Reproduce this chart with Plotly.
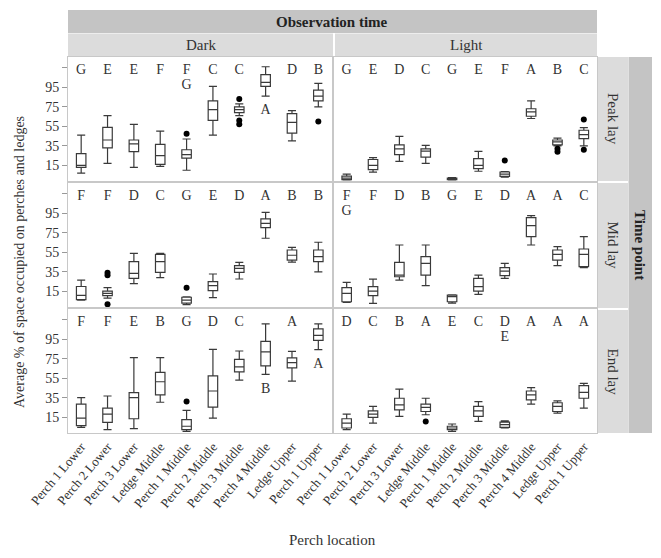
import plotly.graph_objects as go
from plotly.subplots import make_subplots

CATEGORIES = ["Perch 1 Lower", "Perch 2 Lower", "Perch 3 Lower", "Ledge Middle",
              "Perch 1 Middle", "Perch 2 Middle", "Perch 3 Middle", "Perch 4 Middle",
              "Ledge Upper", "Perch 1 Upper"]
Y_TICKS = [15, 35, 55, 75, 95, 115]
Y_TICK_TEXT = ["15", "35", "55", "75", "95", ""]
COL_NAMES = ["Dark", "Light"]
ROW_NAMES = ["Peak lay", "Mid lay", "End lay"]

# ---- Dark / Peak lay ----
dark_peak_low = [7, 17, 13, 14, 10, 46, 66, 86, 40, 75]
dark_peak_q1 = [13, 33, 29, 16, 22.5, 61, 69, 96, 48, 81]
dark_peak_med = [15, 41, 37, 25, 26, 72, 72, 100, 59, 86]
dark_peak_q3 = [27, 54, 41, 36.5, 31, 81, 75, 108, 68, 92]
dark_peak_high = [46, 66, 57, 50, 42, 96, 78, 116, 71, 99]
dark_peak_out_x = ["Perch 1 Middle", "Perch 3 Middle", "Perch 3 Middle", "Perch 3 Middle", "Perch 1 Upper"]
dark_peak_out_y = [47.5, 83, 61, 57, 60]
dark_peak_top = ["G", "E", "E", "F", "F", "C", "C", "", "D", "B"]
dark_peak_second = ["", "", "", "", "G", "", "", "", "", ""]
dark_peak_below = ["", "", "", "", "", "", "", "A", "", ""]

# ---- Light / Peak lay ----
light_peak_low = [0, 8, 19, 17, 0, 9, 3, 63, 35, 35]
light_peak_q1 = [0.5, 10.6, 26, 23.5, 0.5, 11.6, 3.7, 65.3, 36, 42.4]
light_peak_med = [2, 15, 32, 29.7, 1, 15, 6, 69.7, 39, 46.5]
light_peak_q3 = [4, 21, 36, 32, 2, 22, 8.2, 73, 41, 51]
light_peak_high = [6, 23, 44.7, 35.5, 2.5, 29.4, 8.5, 81, 43, 53.6]
light_peak_out_x = ["Perch 3 Middle", "Ledge Upper", "Ledge Upper", "Perch 1 Upper", "Perch 1 Upper"]
light_peak_out_y = [20, 32, 29, 62, 31]
light_peak_top = ["G", "E", "D", "C", "G", "E", "F", "A", "B", "C"]
light_peak_second = [""] * 10
light_peak_below = [""] * 10

# ---- Dark / Mid lay ----
dark_mid_low = [6, 8, 23, 29, 1.5, 8.5, 27.7, 69.4, 45, 35]
dark_mid_q1 = [6.5, 10.6, 28.3, 34.5, 3, 15.7, 34.5, 80.3, 47, 45.4]
dark_mid_med = [11, 13, 33.5, 45.4, 6, 20.8, 38.6, 84.7, 52, 50.6]
dark_mid_q3 = [20, 15.3, 45.4, 53, 9, 25, 41.3, 89.2, 57.4, 57.4]
dark_mid_high = [26.6, 18.8, 54, 54, 9.5, 32.8, 44.7, 96, 60, 65.3]
dark_mid_out_x = ["Perch 2 Lower", "Perch 2 Lower", "Perch 2 Lower", "Perch 1 Middle"]
dark_mid_out_y = [34, 31.5, 1.7, 18.8]
dark_mid_top = ["F", "F", "D", "C", "G", "E", "D", "A", "B", "B"]
dark_mid_second = [""] * 10
dark_mid_below = [""] * 10

# ---- Light / Mid lay ----
light_mid_low = [3.7, 2.7, 26.6, 20.8, 3, 11.9, 28.3, 62.5, 41.3, 39.3]
light_mid_q1 = [4.4, 10.6, 30, 31.7, 4.4, 15.3, 31.1, 71, 47.1, 40.3]
light_mid_med = [13, 15.3, 31.7, 43.7, 9.6, 19.8, 35.8, 82.4, 53, 53]
light_mid_q3 = [18.8, 19.8, 44.7, 50.6, 11.2, 28.3, 39.3, 90.6, 57.4, 58.4]
light_mid_high = [24.2, 27.6, 62.5, 62.5, 11.5, 31.7, 43.7, 92.6, 60.8, 71]
light_mid_out_x = []
light_mid_out_y = []
light_mid_top = ["F", "F", "D", "B", "G", "E", "D", "A", "A", "C"]
light_mid_second = ["G", "", "", "", "", "", "", "", "", ""]
light_mid_below = [""] * 10

# ---- Dark / End lay ----
dark_end_low = [4.8, 2.4, 3.4, 30.5, 0.7, 14.3, 53.2, 59, 52.2, 84.3]
dark_end_q1 = [6.5, 9.9, 13.6, 38, 2.4, 25.5, 61.7, 67.8, 65.8, 93.8]
dark_end_med = [14.3, 18.4, 35.3, 51.5, 5.9, 42, 66.8, 82, 71.1, 98.9]
dark_end_q3 = [28.5, 24.4, 40.4, 61, 12.6, 57.6, 74.5, 92.8, 75.9, 105.7]
dark_end_high = [35.3, 36.9, 76.2, 76.2, 22.1, 84.6, 83, 110.7, 82.6, 110.7]
dark_end_out_x = ["Perch 1 Middle"]
dark_end_out_y = [31.2]
dark_end_top = ["F", "F", "E", "B", "G", "D", "C", "", "A", ""]
dark_end_second = [""] * 10
dark_end_below = ["", "", "", "", "", "", "", "B", "", "A"]

# ---- Light / End lay ----
light_end_low = [2.4, 9.2, 16, 17.7, 0.7, 10.9, 4.1, 28.5, 19.4, 24.4]
light_end_q1 = [4.1, 15, 22.7, 21, 2.4, 16, 4.8, 32.9, 21, 34.6]
light_end_med = [9.2, 18.4, 27.8, 25.2, 4.1, 21.7, 7.5, 38, 26.2, 40.7]
light_end_q3 = [13.6, 21.7, 34.6, 28.5, 5.9, 26.2, 10.2, 42, 30, 47.5]
light_end_high = [18.4, 26.2, 44, 34.6, 8.2, 31.2, 11.5, 45.5, 31.9, 49.8]
light_end_out_x = ["Ledge Middle"]
light_end_out_y = [10.9]
light_end_top = ["D", "C", "B", "A", "E", "C", "D", "A", "A", "A"]
light_end_second = ["", "", "", "", "", "", "E", "", "", ""]
light_end_below = [""] * 10

LETTER_Y = 112.5
SECOND_Y = 96.5
BELOW_OFFSET = 15

panels = [
    (1, 1, dark_peak_low, dark_peak_q1, dark_peak_med, dark_peak_q3, dark_peak_high,
     dark_peak_out_x, dark_peak_out_y, dark_peak_top, dark_peak_second, dark_peak_below),
    (1, 2, light_peak_low, light_peak_q1, light_peak_med, light_peak_q3, light_peak_high,
     light_peak_out_x, light_peak_out_y, light_peak_top, light_peak_second, light_peak_below),
    (2, 1, dark_mid_low, dark_mid_q1, dark_mid_med, dark_mid_q3, dark_mid_high,
     dark_mid_out_x, dark_mid_out_y, dark_mid_top, dark_mid_second, dark_mid_below),
    (2, 2, light_mid_low, light_mid_q1, light_mid_med, light_mid_q3, light_mid_high,
     light_mid_out_x, light_mid_out_y, light_mid_top, light_mid_second, light_mid_below),
    (3, 1, dark_end_low, dark_end_q1, dark_end_med, dark_end_q3, dark_end_high,
     dark_end_out_x, dark_end_out_y, dark_end_top, dark_end_second, dark_end_below),
    (3, 2, light_end_low, light_end_q1, light_end_med, light_end_q3, light_end_high,
     light_end_out_x, light_end_out_y, light_end_top, light_end_second, light_end_below),
]

# page body has an 8px default margin: work in screen pixels, shift by OFF
OFF = 8
W, H = 661 - 2 * OFF, 558 - 2 * OFF
PL, PR, PT, PB = 68, 597, 57, 433          # plot area in screen pixels
L, T = PL - OFF, PT - OFF
R, B = W - (PR - OFF), H - (PB - OFF)
PW, PH = PR - PL, PB - PT
FONT = "Liberation Serif, Times New Roman, serif"
TXT = "#333333"


def px(x):
    return (x - PL) / PW


def py(y):
    return (PB - y) / PH


fig = make_subplots(rows=3, cols=2, shared_xaxes=True, shared_yaxes=True,
                    horizontal_spacing=2 / PW, vertical_spacing=2 / PH)

for (r, c, low, q1, med, q3, high, ox, oy, top, second, below) in panels:
    fig.add_trace(go.Box(x=CATEGORIES, q1=q1, median=med, q3=q3, lowerfence=low,
                         upperfence=high, boxpoints=False, fillcolor="white",
                         line=dict(color="#3a3a3a", width=1.2), width=0.36,
                         whiskerwidth=0.85, showlegend=False, hoverinfo="skip"),
                  row=r, col=c)
    if ox:
        fig.add_trace(go.Scatter(x=ox, y=oy, mode="markers",
                                 marker=dict(color="black", size=6),
                                 showlegend=False, hoverinfo="skip"), row=r, col=c)
    tx, ty, tt = [], [], []
    for i, cat in enumerate(CATEGORIES):
        if top[i]:
            tx.append(cat); ty.append(LETTER_Y); tt.append(top[i])
        if second[i]:
            tx.append(cat); ty.append(SECOND_Y); tt.append(second[i])
        if below[i]:
            tx.append(cat); ty.append(low[i] - BELOW_OFFSET); tt.append(below[i])
    fig.add_trace(go.Scatter(x=tx, y=ty, text=tt, mode="text",
                             textfont=dict(family=FONT, size=14, color=TXT),
                             showlegend=False, hoverinfo="skip"), row=r, col=c)

fig.update_xaxes(type="category", categoryorder="array", categoryarray=CATEGORIES,
                 range=[-0.5, 9.5], showgrid=False, showline=True, mirror=True,
                 linecolor="#c8c8c8", linewidth=1, zeroline=False,
                 tickangle=-50, tickfont=dict(family=FONT, size=13, color=TXT),
                 ticks="")
for c in (1, 2):
    for r in (1, 2):
        fig.update_xaxes(showticklabels=False, row=r, col=c)

fig.update_yaxes(range=[-1, 126], tickvals=Y_TICKS, ticktext=Y_TICK_TEXT,
                 showgrid=False, showline=True, mirror=True, linecolor="#c8c8c8",
                 linewidth=1, zeroline=False,
                 tickfont=dict(family=FONT, size=14, color=TXT))
for r in (1, 2, 3):
    fig.update_yaxes(ticks="outside", ticklen=5, tickcolor="#999999", row=r, col=1)
    fig.update_yaxes(ticks="", showticklabels=False, row=r, col=2)

DARK_BAND = "#c4c4c4"
LIGHT_BAND = "#dcdcdc"
shapes = []
annotations = []


def note(text, x, y, size=15, angle=0, color=TXT):
    annotations.append(dict(text=text, xref="paper", yref="paper", x=px(x), y=py(y),
                            xanchor="center", yanchor="middle", showarrow=False,
                            textangle=angle,
                            font=dict(family=FONT, size=size, color=color)))


def band(x0, x1, y0, y1, color):
    shapes.append(dict(type="rect", xref="paper", yref="paper", x0=px(x0), x1=px(x1),
                       y0=py(y1), y1=py(y0), fillcolor=color, line=dict(width=0),
                       layer="below"))


# top bands
band(68, 597, 10, 33, DARK_BAND)
note("<b>Observation time</b>", 332, 21.5, color="#222")
col_x = [(68, 333), (335, 597)]
for (x0, x1), name in zip(col_x, COL_NAMES):
    band(x0, x1, 33.5, 56.5, LIGHT_BAND)
    note(name, (x0 + x1) / 2, 45)

# right bands
row_y = [(57, 181), (183, 308), (310, 433)]
for (y0, y1), name in zip(row_y, ROW_NAMES):
    band(598, 628, y0, y1, LIGHT_BAND)
    note(name, 613, (y0 + y1) / 2, angle=90)
band(628.5, 652, 57, 433, DARK_BAND)
note("<b>Time point</b>", 640, 245, angle=90, color="#222")

# axis titles
note("Average % of space occupied on perches and ledges", 19, 262, size=14, angle=-90)
note("Perch location", 332, 540)

fig.update_layout(width=W, height=H, margin=dict(l=L, r=R, t=T, b=B),
                  plot_bgcolor="white", paper_bgcolor="white",
                  shapes=shapes, annotations=annotations,
                  font=dict(family=FONT, color=TXT))

fig.write_html("out.html")
